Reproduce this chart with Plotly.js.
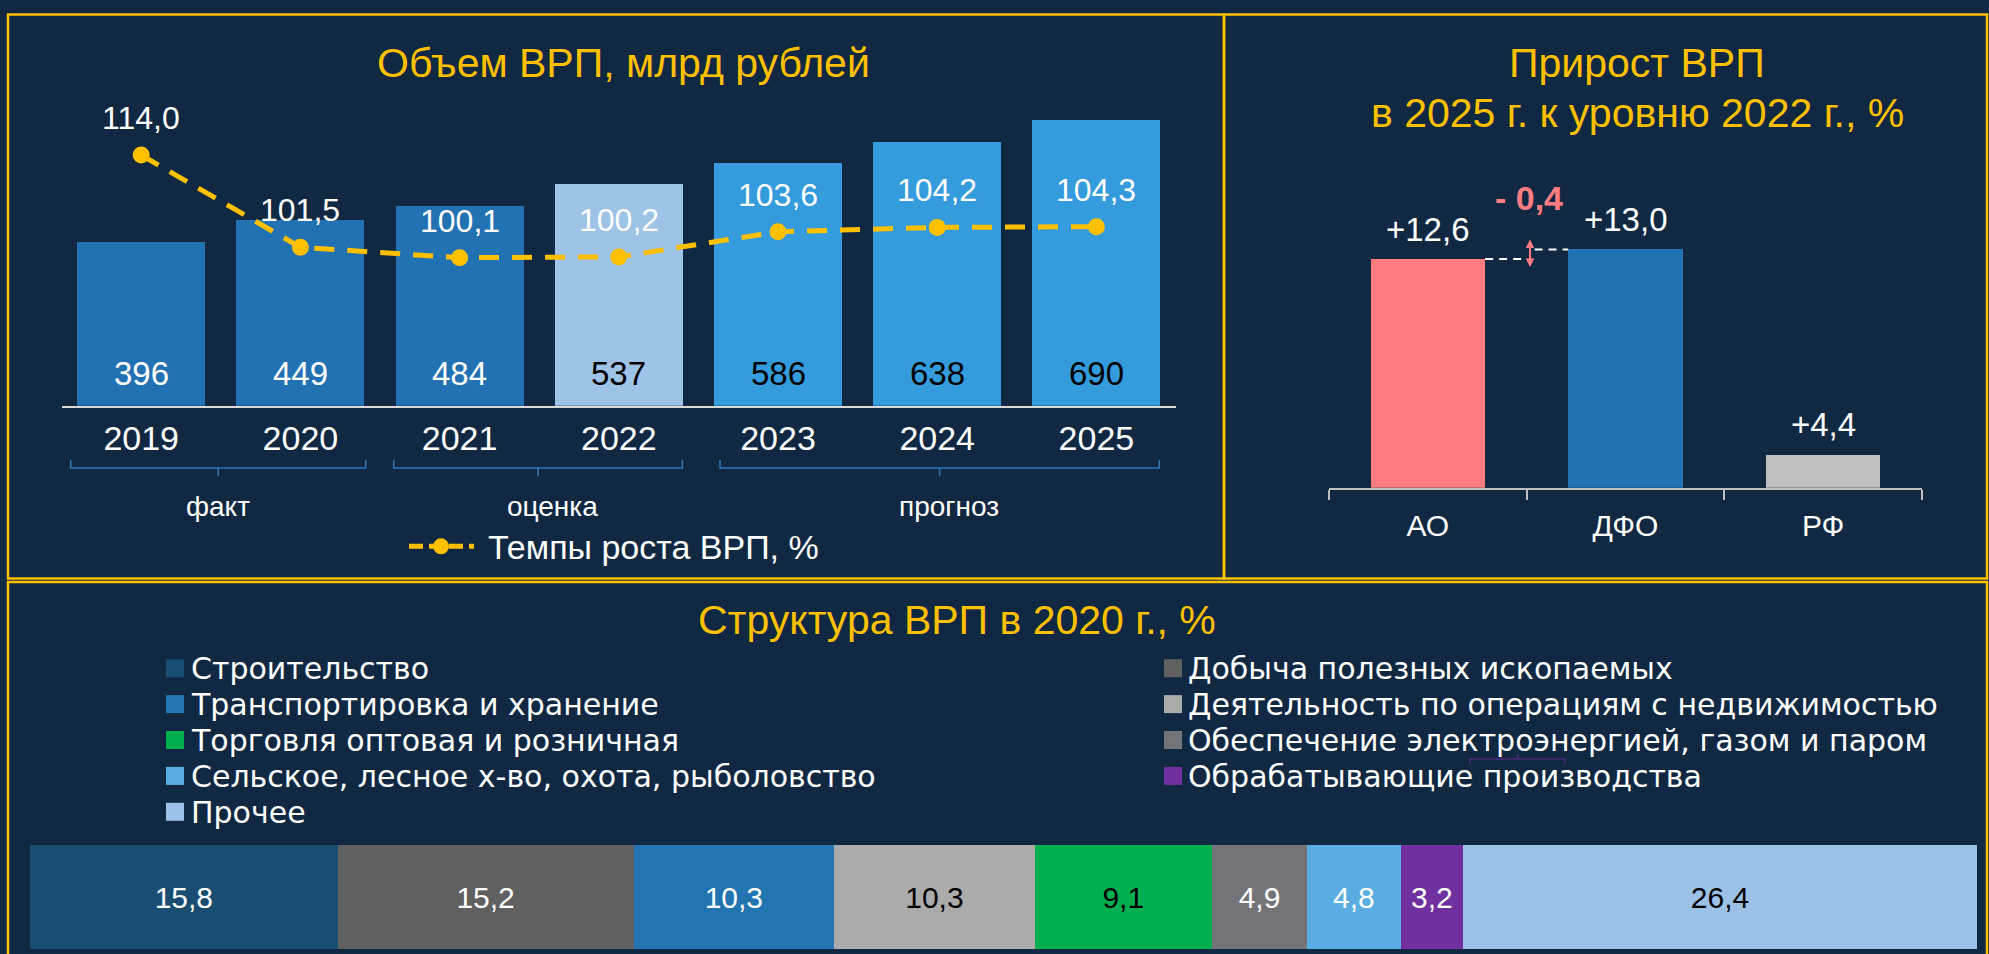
<!DOCTYPE html>
<html><head><meta charset="utf-8">
<script src="https://cdn.plot.ly/plotly-3.0.1.min.js"></script>
<style>html,body{margin:0;padding:0;background:#112842;}#chart{width:1989px;height:954px;}</style>
</head><body><div id="chart"></div>
<script>
// ---------------- data ----------------
const years = ['2019','2020','2021','2022','2023','2024','2025'];
const grpVolume = [396, 449, 484, 537, 586, 638, 690];
const grpGrowth = [114.0, 101.5, 100.1, 100.2, 103.6, 104.2, 104.3];
const periodLabels = ['факт', 'оценка', 'прогноз'];
const growthLegend = 'Темпы роста ВРП, %';

const regions = ['АО', 'ДФО', 'РФ'];
const growth2025vs2022 = [12.6, 13.0, 4.4];

const sectors = ['Строительство', 'Добыча полезных ископаемых', 'Транспортировка и хранение',
  'Деятельность по операциям с недвижимостью', 'Торговля оптовая и розничная',
  'Обеспечение электроэнергией, газом и паром', 'Сельское, лесное х-во, охота, рыболовство',
  'Обрабатывающие производства', 'Прочее'];
const sectorShares = [15.8, 15.2, 10.3, 10.3, 9.1, 4.9, 4.8, 3.2, 26.4];

const titles = ['Объем ВРП, млрд рублей', 'Прирост ВРП', 'в 2025 г. к уровню 2022 г., %', 'Структура ВРП в 2020 г., %'];

// ---------------- styles ----------------
const W = 1989, H = 954;
const FONT = 'Liberation Sans, Arial, sans-serif';
const GOLD = '#ffc000';
const volColors = ['#2271b3','#2271b3','#2271b3','#9dc3e6','#349bdc','#349bdc','#349bdc'];
const volTextColors = ['#ffffff','#ffffff','#ffffff','#000000','#000000','#000000','#000000'];
const regionColors = ['#ff7c80','#2271b3','#bfbfbf'];
const sectorColors = ['#1a4d72','#606060','#2275b0','#ababab','#00b050','#747478','#5aade0','#7030a0','#9bc2e6'];
const sectorTextColors = ['#ffffff','#ffffff','#ffffff','#000000','#000000','#ffffff','#ffffff','#ffffff','#000000'];

const px = x => x / W;
const py = y => 1 - y / H;
const fmt = v => v.toFixed(1).replace('.', ',');

function txt(x, y, text, size, color, extra) {
  return Object.assign({xref:'paper', yref:'paper', x:px(x), y:py(y), text:text, showarrow:false,
    font:{family:FONT, size:size, color:color}, xanchor:'center', yanchor:'middle'}, extra || {});
}

// ---------------- traces ----------------
const traces = [];
traces.push({type:'bar', x:years, y:grpVolume, xaxis:'x', yaxis:'y', width:0.804,
  marker:{color:volColors}, hoverinfo:'skip', showlegend:false});
traces.push({type:'scatter', mode:'lines+markers', x:years, y:grpGrowth, xaxis:'x', yaxis:'y2',
  line:{color:GOLD, width:5, dash:'20px,13px'}, marker:{size:17, color:GOLD},
  name:growthLegend, hoverinfo:'skip', showlegend:false});
traces.push({type:'bar', x:regions, y:growth2025vs2022, xaxis:'x2', yaxis:'y3', width:0.58,
  marker:{color:regionColors}, hoverinfo:'skip', showlegend:false});
sectors.forEach((s, i) => {
  traces.push({type:'bar', orientation:'h', name:s, x:[sectorShares[i]], y:[0], xaxis:'x3', yaxis:'y4', width:1,
    marker:{color:sectorColors[i]}, text:[fmt(sectorShares[i])], textposition:'inside', insidetextanchor:'middle',
    textangle:0, constraintext:'none', textfont:{family:FONT, size:30, color:sectorTextColors[i]},
    hoverinfo:'skip', showlegend:false});
});

// ---------------- annotations ----------------
const ann = [];
ann.push(txt(623, 62.5, titles[0], 41, GOLD));
ann.push(txt(1637, 63.5, titles[1], 41, GOLD));
ann.push(txt(1637, 113.4, titles[2], 41, GOLD));
ann.push(txt(957, 619.8, titles[3], 41, GOLD));

years.forEach((yr, i) => {
  ann.push({xref:'x', yref:'y', x:i, y:0, yshift:32, text:String(grpVolume[i]), showarrow:false,
    font:{family:FONT, size:33, color:volTextColors[i]}, xanchor:'center', yanchor:'middle'});
  ann.push({xref:'x', yref:'y2', x:i, y:grpGrowth[i], yshift:37, text:fmt(grpGrowth[i]), showarrow:false,
    font:{family:FONT, size:32, color:'#ffffff'}, xanchor:'center', yanchor:'middle'});
});
regions.forEach((r, i) => {
  ann.push({xref:'x2', yref:'y3', x:i, y:growth2025vs2022[i], yshift:30, text:'+' + fmt(growth2025vs2022[i]),
    showarrow:false, font:{family:FONT, size:33, color:'#ffffff'}, xanchor:'center', yanchor:'middle'});
});
// gap between АО and ДФО
const gap = growth2025vs2022[0] - growth2025vs2022[1];
ann.push(txt(1529, 198.2, (gap < 0 ? '- ' : '+ ') + fmt(Math.abs(gap)), 34, '#ff7c80',
  {font:{family:FONT, size:34, color:'#ff7c80', weight:'bold'}}));
ann.push({xref:'x2', yref:'y3', x:0.517, y:growth2025vs2022[1] + 0.42, axref:'x2', ayref:'y3',
  ax:0.517, ay:growth2025vs2022[0] - 0.4, text:'', showarrow:true, arrowside:'end+start',
  arrowhead:2, arrowsize:0.85, arrowwidth:2, arrowcolor:'#ff7c80', standoff:0, startstandoff:0});

// period labels
const periodX = [217.5, 552.6, 949];
periodLabels.forEach((p, i) => ann.push(txt(periodX[i], 506.8, p, 28, '#ffffff')));
// line legend text
ann.push(txt(486, 547, growthLegend, 34, '#ffffff', {xanchor:'left'}));

// sector legend (two columns)
const leftIdx = [0, 2, 4, 6, 8], rightIdx = [1, 3, 5, 7];
const rowY = [668.2, 704.1, 740.0, 775.9, 811.8];
const shapes = [];
const LFONT = 'DejaVu Sans, Liberation Sans, sans-serif';
function legendItem(idx, row, sqX, textX) {
  shapes.push({type:'rect', xref:'paper', yref:'paper', x0:px(sqX), x1:px(sqX + 18), y0:py(rowY[row] - 9), y1:py(rowY[row] + 9),
    line:{width:0}, fillcolor:sectorColors[idx]});
  ann.push({xref:'paper', yref:'paper', x:px(textX), y:py(rowY[row] + 0.5), text:sectors[idx], showarrow:false,
    font:{family:LFONT, size:30, color:'#ffffff'}, xanchor:'left', yanchor:'middle'});
}
leftIdx.forEach((idx, r) => legendItem(idx, r, 166, 189));
rightIdx.forEach((idx, r) => legendItem(idx, r, 1164, 1186));

// ---------------- shapes ----------------
const border = {color:GOLD, width:2.5};
shapes.push({type:'rect', xref:'paper', yref:'paper', x0:px(8), x1:px(1224), y0:py(14.5), y1:py(578.5), line:border});
shapes.push({type:'rect', xref:'paper', yref:'paper', x0:px(1224), x1:px(1987), y0:py(14.5), y1:py(578.5), line:border});
shapes.push({type:'rect', xref:'paper', yref:'paper', x0:px(8), x1:px(1987), y0:py(582), y1:py(975), line:border});

// period brackets
const brackets = [[70.7, 365.7], [393.7, 682.4], [720, 1159.2]];
brackets.forEach(b => {
  const xc = (b[0] + b[1]) / 2;
  const p = `M${px(b[0])},${py(460)} L${px(b[0])},${py(468)} L${px(b[1])},${py(468)} L${px(b[1])},${py(460)} M${px(xc)},${py(468)} L${px(xc)},${py(476)}`;
  shapes.push({type:'path', xref:'paper', yref:'paper', path:p, line:{color:'#2e75b6', width:1.6}});
});

// line legend symbol
shapes.push({type:'line', xref:'paper', yref:'paper', x0:px(409), x1:px(474), y0:py(546.3), y1:py(546.3),
  line:{color:GOLD, width:5, dash:'14px,6px'}});
shapes.push({type:'circle', xref:'paper', yref:'paper', x0:px(433), x1:px(449), y0:py(554.3), y1:py(538.3),
  line:{width:0}, fillcolor:GOLD});

// dashed connectors between АО and ДФО bars
shapes.push({type:'line', xref:'x2', yref:'y3', x0:0.29, x1:0.50, y0:growth2025vs2022[0], y1:growth2025vs2022[0],
  line:{color:'#ffffff', width:2, dash:'8px,6px'}});
shapes.push({type:'line', xref:'x2', yref:'y3', x0:0.54, x1:0.71, y0:growth2025vs2022[1], y1:growth2025vs2022[1],
  line:{color:'#ffffff', width:2, dash:'8px,6px'}});

// small purple stroke in the legend area
shapes.push({type:'path', xref:'paper', yref:'paper',
  path:`M${px(1470)},${py(763.5)} L${px(1470)},${py(759)} L${px(1565)},${py(759)} L${px(1565)},${py(763.5)} M${px(1517.7)},${py(759)} L${px(1517.7)},${py(754)}`,
  line:{color:'#4b2a80', width:1.6}});

// ---------------- layout ----------------
const layout = {
  width:W, height:H, margin:{l:0, r:0, t:0, b:0},
  paper_bgcolor:'#112842', plot_bgcolor:'rgba(0,0,0,0)',
  font:{family:FONT, color:'#ffffff'},
  barmode:'stack', hovermode:false, showlegend:false,
  xaxis:{domain:[px(61.6), px(1176)], anchor:'y', type:'category', range:[-0.5, 6.5], autorange:false,
    showline:true, linecolor:'#d9d9d9', linewidth:2,
    ticks:'', showgrid:false, zeroline:false, tickfont:{family:FONT, size:34, color:'#ffffff'}, ticklabelstandoff:1},
  yaxis:{domain:[py(405.7), py(100)], range:[0, 739.3], autorange:false, visible:false, anchor:'x'},
  yaxis2:{overlaying:'y', anchor:'x', range:[80.05, 121.45], autorange:false, visible:false},
  xaxis2:{domain:[px(1329), px(1922)], anchor:'y3', type:'category', range:[-0.5, 2.5], autorange:false,
    showline:true, linecolor:'#bfbfbf', linewidth:2,
    ticks:'outside', ticklen:10, tickwidth:2, tickcolor:'#bfbfbf', tickson:'boundaries', showgrid:false, zeroline:false,
    tickfont:{family:FONT, size:30, color:'#ffffff'}, ticklabelstandoff:10},
  yaxis3:{domain:[py(487.7), py(200)], range:[3.03, 15.07], autorange:false, visible:false, anchor:'x2'},
  xaxis3:{domain:[px(30), px(1977)], range:[0, 100], autorange:false, visible:false, anchor:'y4'},
  yaxis4:{domain:[py(949.3), py(845)], range:[-0.5, 0.5], autorange:false, visible:false, anchor:'x3'},
  annotations:ann, shapes:shapes
};

Plotly.newPlot('chart', traces, layout, {displayModeBar:false, staticPlot:true});
</script></body></html>
